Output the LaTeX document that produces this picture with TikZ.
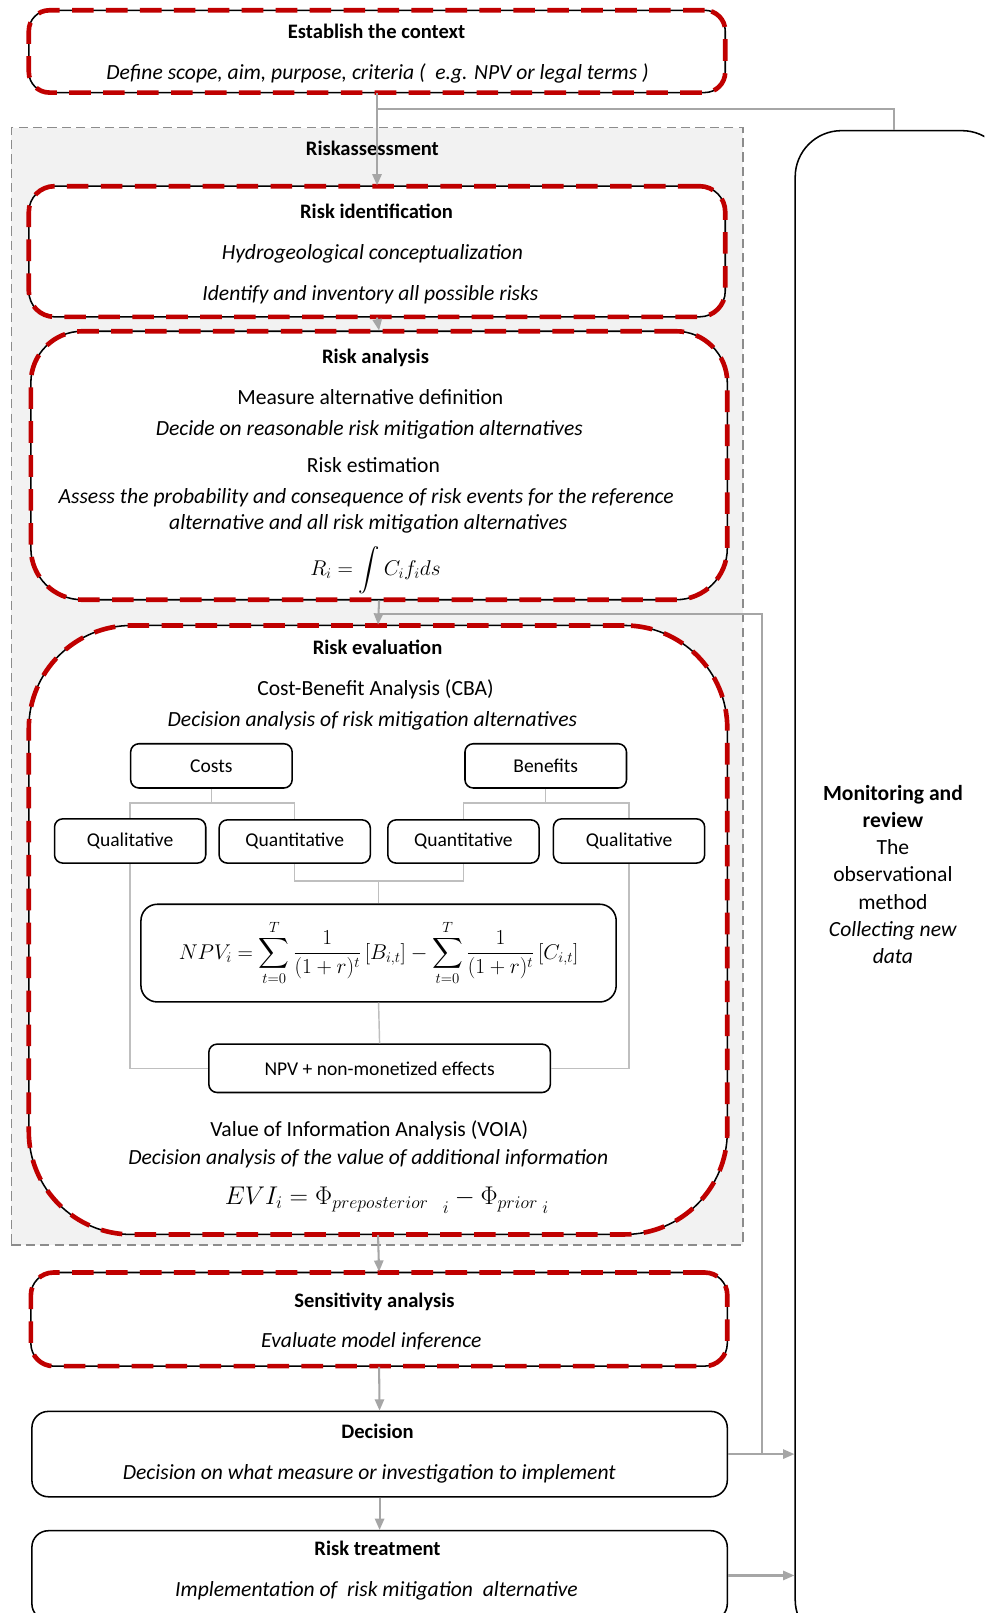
\documentclass[tikz,border=0pt]{standalone}
\usepackage{amsmath}
\usepackage{exscale}
\usepackage[no-math]{fontspec}
\setmainfont{Carlito}
\usepackage{tikz}
\usetikzlibrary{calc,arrows,positioning}
\usetikzlibrary{arrows.meta}
\definecolor{riskred}{HTML}{C00000}
\definecolor{arrowgrey}{HTML}{A6A6A6}
\definecolor{linegrey}{HTML}{BFBFBF}
\definecolor{areagrey}{HTML}{8C8C8C}
\definecolor{areafill}{HTML}{F2F2F2}
\tikzset{
risk_step/.style={rectangle, draw=black, line width=1.5pt, fill=white, postaction={draw=riskred, line width=4.5pt, dash pattern=on 21pt off 12pt}},
plain_step/.style={rectangle, draw=black, line width=1.5pt, fill=white, rounded corners=16pt},
cba_item/.style={rectangle, rounded corners=8pt, draw=black, line width=1.5pt, fill=white, font=\fontsize{19}{22}\selectfont},
assess_area/.style={rectangle, draw=areagrey, line width=1.5pt, dash pattern=on 9pt off 5pt, fill=areafill},
flow_arrow/.style={draw=arrowgrey, line width=2pt, -{Triangle[length=11pt,width=9pt]}},
flow_line/.style={draw=arrowgrey, line width=2pt},
cba_line/.style={draw=linegrey, line width=1.4pt},
title_text/.style={inner sep=0pt, text height=18pt, text depth=4pt, font=\bfseries\fontsize{20}{24}\selectfont},
body_text/.style={inner sep=0pt, text height=18pt, text depth=4pt, font=\fontsize{21}{25}\selectfont},
note_text/.style={inner sep=0pt, text height=18pt, text depth=4pt, font=\itshape\fontsize{21}{25}\selectfont},
formula/.style={inner sep=0pt, font=\fontsize{21}{25}\selectfont}
}

\begin{document}
\begin{tikzpicture}[x=1pt, y=-1pt]
    \useasboundingbox (0,0) rectangle (957,1568);
    \clip (0,0) rectangle (957,1568);
    % risk assessment area and monitoring
    \node[assess_area, minimum width=711pt, minimum height=1086pt] (assess) at (366.5,667) {};
    \node[title_text] (assess_title) at (362,144) {Riskassessment};
    \node[plain_step, rounded corners=45pt, minimum width=207pt, minimum height=1473pt] (monitor) at (876.5,863.5) {};
    \node[align=center, inner sep=0pt, font=\fontsize{21}{26.5}\selectfont] (monitor_text) at (868,850)
        {\textbf{Monitoring and}\\\textbf{review}\\The\\observational\\method\\\textit{Collecting new}\\\textit{data}};

    % context
    \node[risk_step, rounded corners=20pt, minimum width=677pt, minimum height=80pt] (context) at (366.5,50) {};
    \node[title_text] (context_title) at (366,30) {Establish the context};
    \node[note_text] (context_note) at (367,70) {Define scope, aim, purpose, criteria (\ \ e.g. NPV or legal terms )};

    % risk identification
    \node[risk_step, rounded corners=25pt, minimum width=677pt, minimum height=127pt] (ident) at (366.5,244.5) {};
    \node[title_text] (ident_title) at (366,205) {Risk identification};
    \node[note_text] (ident_note_1) at (362,245) {Hydrogeological conceptualization};
    \node[note_text] (ident_note_2) at (360,285) {Identify and inventory all possible risks};

    % risk analysis
    \node[risk_step, rounded corners=50pt, minimum width=677pt, minimum height=261pt] (analysis) at (368.5,452.5) {};
    \node[title_text] (analysis_title) at (365,346) {Risk analysis};
    \node[body_text] (measure_def) at (360,386) {Measure alternative definition};
    \node[note_text] (measure_note) at (359,416) {Decide on reasonable risk mitigation alternatives};
    \node[body_text] (estimation) at (363,452) {Risk estimation};
    \node[note_text] (estimation_note_1) at (356,482) {Assess the probability and consequence of risk events for the reference};
    \node[note_text] (estimation_note_2) at (358,508) {alternative and all risk mitigation alternatives};
    \node[formula] (risk_formula) at (365,554) {$\displaystyle R_i = \int C_i f_i ds$};

    % risk evaluation
    \node[risk_step, rounded corners=100pt, minimum width=679pt, minimum height=592pt] (evaluation) at (367.5,904) {};
    \node[title_text] (evaluation_title) at (367,629) {Risk evaluation};
    \node[body_text] (cba) at (365,669) {Cost-Benefit Analysis (CBA)};
    \node[note_text] (cba_note) at (362,699) {Decision analysis of risk mitigation alternatives};

    \node[cba_item, minimum width=157pt, minimum height=43pt] (costs) at (205.5,744.5) {Costs};
    \node[cba_item, minimum width=157pt, minimum height=43pt] (benefits) at (530.5,744.5) {Benefits};
    \node[cba_item, minimum width=147pt, minimum height=43pt] (qual_c) at (126.5,817.5) {Qualitative};
    \node[cba_item, minimum width=147pt, minimum height=42pt] (quant_c) at (286.5,818) {Quantitative};
    \node[cba_item, minimum width=147pt, minimum height=42pt] (quant_b) at (450.5,818) {Quantitative};
    \node[cba_item, minimum width=147pt, minimum height=43pt] (qual_b) at (611.5,817.5) {Qualitative};
    \node[cba_item, rounded corners=16pt, minimum width=462pt, minimum height=95pt, inner sep=0pt, font=\fontsize{20}{24}\selectfont] (npv) at (368,926.5)
        {$\displaystyle NPV_i = \sum_{t=0}^{T}\frac{1}{(1+r)^t}\left[B_{i,t}\right] - \sum_{t=0}^{T}\frac{1}{(1+r)^t}\left[C_{i,t}\right]$};
    \node[cba_item, minimum width=332pt, minimum height=47pt] (effects) at (369,1038.5) {NPV + non-monetized effects};

    \coordinate (costs_split) at ($(costs.south)+(0,14)$);
    \coordinate (benefits_split) at ($(benefits.south)+(0,14)$);
    \coordinate (quant_join) at ($(npv.north)+(0,-22)$);
    \draw[cba_line] (costs.south) -- (costs_split) -| (qual_c.north);
    \draw[cba_line] (costs_split) -| (quant_c.north);
    \draw[cba_line] (benefits.south) -- (benefits_split) -| (quant_b.north);
    \draw[cba_line] (benefits_split) -| (qual_b.north);
    \draw[cba_line] (quant_c.south) |- (quant_join) -| (quant_b.south);
    \draw[cba_line] (quant_join) -- (npv.north);
    \draw[cba_line] (npv.south) -- (effects.north);
    \draw[cba_line] (qual_c.south) |- (effects.west);
    \draw[cba_line] (qual_b.south) |- (effects.east);

    \node[body_text] (voia) at (359,1098) {Value of Information Analysis (VOIA)};
    \node[note_text] (voia_note) at (358,1125) {Decision analysis of the value of additional information};
    \node[formula, font=\fontsize{23}{27}\selectfont] (evi_formula) at (376,1167)
        {$EVI_i = \Phi_{preposterior\;\;\;\lower5pt\hbox{$\scriptstyle i$}} - \Phi_{prior\;\lower5pt\hbox{$\scriptstyle i$}}$};

    % sensitivity, decision, treatment
    \node[risk_step, rounded corners=22pt, minimum width=677pt, minimum height=91pt] (sens) at (368.5,1282.5) {};
    \node[title_text] (sens_title) at (364,1264) {Sensitivity analysis};
    \node[note_text] (sens_note) at (361,1303) {Evaluate model inference};

    \node[plain_step, minimum width=676pt, minimum height=83pt] (decision) at (369,1413.5) {};
    \node[title_text] (decision_title) at (367,1391) {Decision};
    \node[note_text] (decision_note) at (359,1431) {Decision on what measure or investigation to implement};

    \node[plain_step, minimum width=676pt, minimum height=87pt] (treatment) at (369,1531.5) {};
    \node[title_text] (treatment_title) at (367,1505) {Risk treatment};
    \node[note_text] (treatment_note) at (366,1545) {Implementation of\ \ risk mitigation\ \ alternative};

    % flow
    \coordinate (context_split) at ($(context.south)+(0,15)$);
    \coordinate (analysis_split) at ($(analysis.south)+(0,13)$);
    \coordinate (monitor_join) at ($(decision.east)+(33,0)$);
    \draw[flow_arrow] (context.south) -- (ident.north);
    \draw[flow_line] (context_split) -| ($(monitor.north west)+(97,0)$);
    \draw[flow_arrow] (ident.south) -- (analysis.north);
    \draw[flow_arrow] (analysis.south) -- (evaluation.north);
    \draw[flow_line] (analysis_split) -| (monitor_join);
    \draw[flow_arrow] (evaluation.south) -- (sens.north);
    \draw[flow_arrow] (sens.south) -- (decision.north);
    \draw[flow_arrow] (decision.south) -- (treatment.north);
    \draw[flow_arrow] (decision.east) -- (decision.east -| monitor.west);
    \draw[flow_arrow] (treatment.east) -- (treatment.east -| monitor.west);
\end{tikzpicture}
\end{document}
